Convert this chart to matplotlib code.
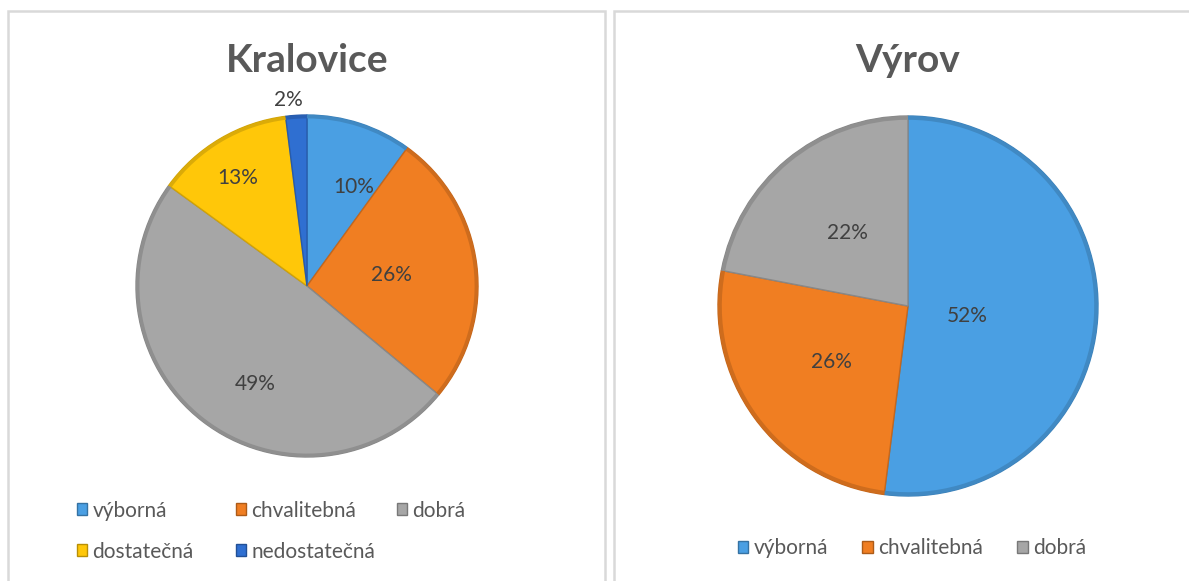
import numpy as np
import matplotlib
matplotlib.use("Agg")
from matplotlib import pyplot as plt
from matplotlib.patches import Rectangle, Patch
import matplotlib.colors as mcolors

# data
kralovice_labels = ["výborná", "chvalitebná", "dobrá", "dostatečná", "nedostatečná"]
kralovice_values = [10, 26, 49, 13, 2]
vyrov_labels = ["výborná", "chvalitebná", "dobrá"]
vyrov_values = [52, 26, 22]

grade_colors = ["#4a9fe3", "#f07e22", "#a6a6a6", "#ffc709", "#2f6fd1"]

W, H = 1189, 581
plt.rcParams['font.family'] = ['Lato', 'DejaVu Sans']
fig = plt.figure(figsize=(W / 100, H / 100), dpi=100)
fig.patch.set_facecolor("white")


def px_box(x0, y0, x1, y1):
    # pixel coords (top-left origin) -> figure fraction rect
    return [x0 / W, 1 - y1 / H, (x1 - x0) / W, (y1 - y0) / H]


def darker(c, f=0.72):
    r, g, b = mcolors.to_rgb(c)
    return (r * f, g * f, b * f)


def draw_pie(cx, cy, r, values, colors, label_r, label_shift, title):
    ax = fig.add_axes(px_box(cx - r, cy - r, cx + r, cy + r))
    wedges, _ = ax.pie(values, colors=colors, startangle=90, counterclock=False,
                       wedgeprops=dict(linewidth=1.0))
    for w, c in zip(wedges, colors):
        w.set_edgecolor(darker(c, 0.82))
    # slightly darker rim to fake the bevel look
    ax.pie(values, colors=[darker(c, 0.86) for c in colors], startangle=90, counterclock=False,
           radius=1.0, wedgeprops=dict(width=0.02, linewidth=0))
    ax.set_xlim(-1.0, 1.0)
    ax.set_ylim(-1.0, 1.0)
    ax.set_aspect("equal")
    total = sum(values)
    for w, v, d, s in zip(wedges, values, label_r, label_shift):
        # Excel's "best fit" nudges labels a bit off the mid angle (s, clockwise deg)
        ang = np.deg2rad((w.theta1 + w.theta2) / 2 - s)
        ax.text(d * np.cos(ang), d * np.sin(ang), f"{round(100 * v / total)}%",
                ha="center", va="center", fontsize=15, color="#404040")
    fig.text(cx / W, 1 - 60 / H, title, ha="center", va="center",
             fontsize=28, fontweight="bold", color="#595959")
    return wedges


# chart frames
for x0, x1 in [(8, 605), (614, 1195)]:
    fig.patches.append(Rectangle((x0 / W, -0.1), (x1 - x0) / W, 1 - 11 / H + 0.1,
                                 transform=fig.transFigure, fill=False,
                                 edgecolor="#d9d9d9", linewidth=1.8))

draw_pie(307, 286, 171, kralovice_values, grade_colors[:5],
         [0.64, 0.5, 0.65, 0.75, 1.09], [7, 0, -10, -2, -2], "Kralovice")
draw_pie(908, 306, 190, vyrov_values, grade_colors[:3],
         [0.315, 0.5, 0.5], [6, 0, 0], "Výrov")

legend_kw = dict(frameon=False, fontsize=15, labelcolor="#595959", handlelength=0.5,
                 handleheight=0.5, handletextpad=0.25)

# Excel spaces the legend columns evenly, so one small legend per column
left_columns = [[0, 3], [1, 4], [2]]
for col, x_px in zip(left_columns, [58, 217, 378]):
    handles = [Patch(facecolor=grade_colors[i], edgecolor=darker(grade_colors[i])) for i in col]
    fig.legend(handles, [kralovice_labels[i] for i in col], loc="upper left",
               bbox_to_anchor=(x_px / W, 1 - 482 / H), labelspacing=1.0, **legend_kw)

right_handles = [Patch(facecolor=c, edgecolor=darker(c)) for c in grade_colors[:3]]
fig.legend(right_handles, vyrov_labels, ncol=3, loc="center",
           bbox_to_anchor=(912 / W, 1 - 548 / H), columnspacing=1.65, **legend_kw)

fig.savefig("out.png", dpi=100, facecolor="white")
